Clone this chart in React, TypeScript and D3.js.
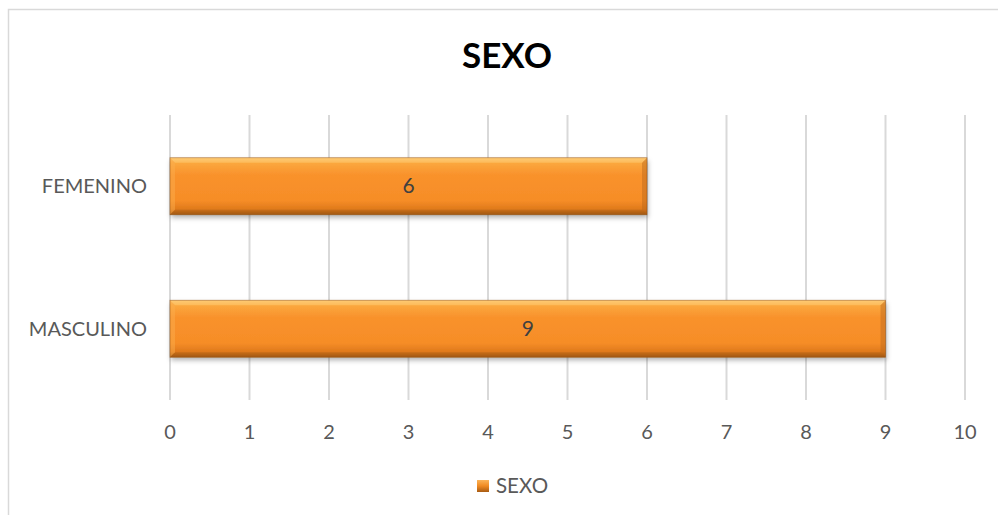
import React from "react";
import * as d3 from "d3";

const categories = ["FEMENINO", "MASCULINO"];
const values = [6, 9];
const seriesName = "SEXO";
const ticks = [0, 1, 2, 3, 4, 5, 6, 7, 8, 9, 10];
const title = "SEXO";

const W = 998;
const H = 515;
const FONT = "Lato, 'Open Sans', sans-serif";

export default function App() {
  const x = d3.scaleLinear().domain([0, 10]).range([170, 965]);
  const y = d3.scaleBand<string>().domain(categories).range([115, 400]).paddingInner(0.6).paddingOuter(0.3);
  const bw = y.bandwidth();
  const bev = 5;

  return (
    <svg width={W} height={H} style={{ position: "absolute", left: 0, top: 0, display: "block" }}>
      <defs>
        <linearGradient id="barGrad" x1="0" y1="0" x2="0" y2="1">
          <stop offset="0" stopColor="#fdc46e" />
          <stop offset="0.08" stopColor="#fba93f" />
          <stop offset="0.3" stopColor="#f9922c" />
          <stop offset="0.75" stopColor="#f68d27" />
          <stop offset="0.9" stopColor="#e07a1c" />
          <stop offset="1" stopColor="#9c5614" />
        </linearGradient>
        <linearGradient id="legGrad" x1="0" y1="0" x2="0" y2="1">
          <stop offset="0" stopColor="#fbb45a" />
          <stop offset="0.5" stopColor="#f08a22" />
          <stop offset="1" stopColor="#a85c14" />
        </linearGradient>
        <filter id="shadow" x="-5%" y="-20%" width="110%" height="150%">
          <feDropShadow dx="1" dy="3" stdDeviation="2.5" floodColor="#000" floodOpacity="0.3" />
        </filter>
      </defs>
      <rect x={0} y={0} width={W} height={H} fill="#fff" />
      <rect x={8.5} y={9.5} width={W + 10} height={H + 10} fill="none" stroke="#d9d9d9" strokeWidth={1.5} />

      <text x={507} y={68} textAnchor="middle" fontFamily={FONT} fontWeight={700} fontSize={35} fill="#000">
        {title}
      </text>

      {ticks.map((t) => (
        <line key={"g" + t} x1={x(t)} x2={x(t)} y1={115} y2={400} stroke="#d9d9d9" strokeWidth={2} />
      ))}
      {ticks.map((t) => (
        <text key={"t" + t} x={x(t)} y={439} textAnchor="middle" fontFamily={FONT} fontSize={20} fill="#595959">
          {t}
        </text>
      ))}

      {categories.map((c, i) => {
        const y0 = y(c)!;
        const x0 = x(0);
        const x1 = x(values[i]);
        const y1 = y0 + bw;
        return (
          <g key={c}>
            <rect x={x0} y={y0} width={x1 - x0} height={bw} fill="url(#barGrad)" filter="url(#shadow)" />
            <polygon points={`${x0},${y0} ${x0 + bev},${y0 + bev} ${x0 + bev},${y1 - bev} ${x0},${y1}`} fill="#fbb04f" opacity={0.45} />
            <polygon points={`${x1},${y0} ${x1 - bev},${y0 + bev} ${x1 - bev},${y1 - bev} ${x1},${y1}`} fill="#b8661a" opacity={0.45} />
            <polygon points={`${x0},${y0} ${x1},${y0} ${x1 - bev},${y0 + bev} ${x0 + bev},${y0 + bev}`} fill="#fed27f" opacity={0.45} />
            <polygon points={`${x0},${y1} ${x1},${y1} ${x1 - bev},${y1 - bev} ${x0 + bev},${y1 - bev}`} fill="#a85c14" opacity={0.3} />
            <rect x={x0} y={y0} width={x1 - x0} height={bw} fill="none" stroke="#8f4f12" strokeWidth={0.8} strokeOpacity={0.6} />
            <text x={(x0 + x1) / 2} y={y0 + bw / 2 + 7} textAnchor="middle" fontFamily={FONT} fontSize={21} fill="#404040">
              {values[i]}
            </text>
            <text x={147} y={y0 + bw / 2 + 7} textAnchor="end" fontFamily={FONT} fontSize={20} fill="#595959">
              {c}
            </text>
          </g>
        );
      })}

      <rect x={477} y={480} width={12} height={12} fill="url(#legGrad)" />
      <text x={496} y={493} fontFamily={FONT} fontSize={20.5} fill="#595959">
        {seriesName}
      </text>
    </svg>
  );
}
